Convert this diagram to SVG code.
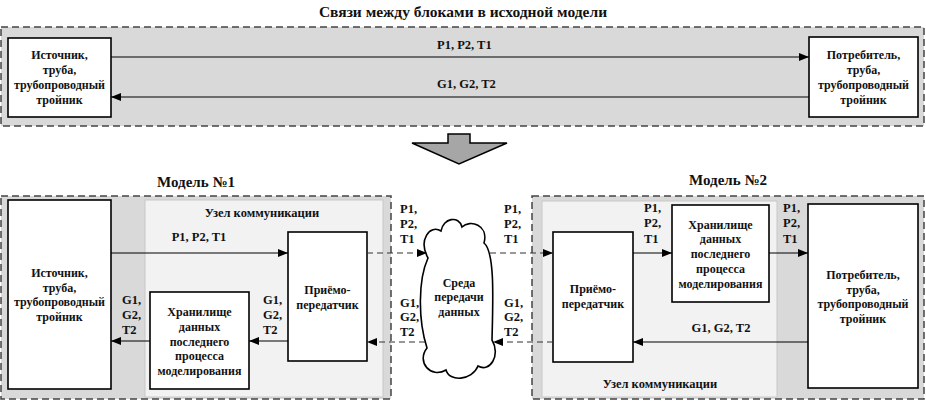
<svg xmlns="http://www.w3.org/2000/svg" width="926" height="402" viewBox="0 0 926 402">
<defs>
<marker id="ah" markerWidth="10" markerHeight="8" refX="10" refY="4" orient="auto" markerUnits="userSpaceOnUse">
<path d="M0,0 L10,4 L0,8 Z" fill="#000"/>
</marker>
<style>
text{font-weight:bold;font-size:12px;fill:#111}
.c{text-anchor:middle}
.t{font-size:15px}
.tt{font-size:15.5px}
.lb{font-size:12.5px}
.outer{fill:#d9d9d9;stroke:#444;stroke-width:1.5;stroke-dasharray:7 4}
.inner{fill:#f2f2f2;stroke:#c8c8c8;stroke-width:1}
.box{fill:#fff;stroke:#000;stroke-width:1.6}
.ln{fill:none;stroke:#000;stroke-width:1.2;marker-end:url(#ah)}
.dla{fill:none;stroke:#333;stroke-width:1.2;stroke-dasharray:6 4;marker-end:url(#ah)}
</style>
</defs>
<rect width="926" height="402" fill="#fff"/>
<g font-family="'Liberation Serif', 'Times New Roman', serif">

<g id="top-region">
<text class="c tt" x="463" y="17">Связи между блоками в исходной модели</text>
<rect class="outer" x="1" y="27" width="923" height="99"/>
</g>

<g id="top-source">
<rect class="box" x="8" y="38" width="103" height="79"/>
<text class="c" x="59.5" y="59">Источник,</text>
<text class="c" x="59.5" y="74">труба,</text>
<text class="c" x="59.5" y="89">трубопроводный</text>
<text class="c" x="59.5" y="104">тройник</text>
</g>

<g id="top-consumer">
<rect class="box" x="809" y="37" width="109" height="80"/>
<text class="c" x="863.5" y="59">Потребитель,</text>
<text class="c" x="863.5" y="74">труба,</text>
<text class="c" x="863.5" y="89">трубопроводный</text>
<text class="c" x="863.5" y="104">тройник</text>
</g>

<g id="transition-arrow">
<polygon points="448,134 470,134 470,143 507,143 459,164 412,143 448,143" fill="#a6a6a6" stroke="#000" stroke-width="1.5"/>
</g>

<g id="model1">
<text class="c t" x="196" y="187">Модель №1</text>
<rect class="outer" x="1" y="196" width="390" height="203"/>
<rect class="inner" x="145" y="200" width="238" height="197"/>
<text class="c lb" x="262" y="217">Узел коммуникации</text>
</g>

<g id="model2">
<text class="c t" x="728" y="185">Модель №2</text>
<rect class="outer" x="532" y="196" width="392" height="203"/>
<rect class="inner" x="542" y="201" width="235" height="196"/>
<text class="c lb" x="660" y="388">Узел коммуникации</text>
</g>

<g id="source1">
<rect class="box" x="8" y="200" width="103" height="189"/>
<text class="c" x="59.5" y="277">Источник,</text>
<text class="c" x="59.5" y="292">труба,</text>
<text class="c" x="59.5" y="306">трубопроводный</text>
<text class="c" x="59.5" y="321">тройник</text>
</g>

<g id="storage1">
<rect class="box" x="150" y="292" width="99" height="97"/>
<text class="c" x="199.5" y="316">Хранилище</text>
<text class="c" x="199.5" y="331">данных</text>
<text class="c" x="199.5" y="346">последнего</text>
<text class="c" x="199.5" y="360">процесса</text>
<text class="c" x="199.5" y="375">моделирования</text>
</g>

<g id="transceiver1">
<rect class="box" x="288" y="232" width="79" height="129"/>
<text class="c" x="327.5" y="294">Приёмо-</text>
<text class="c" x="327.5" y="309">передатчик</text>
</g>

<g id="cloud">
<path d="M428,258 C418,240 430,224 441,231 C443,218 459,215 462,227 C470,219 489,225 484,243 C495,252 493,300 492,340 C501,355 490,373 478,366 C472,381 449,382 446,370 C431,379 416,362 427,348 C418,320 418,280 428,258 Z" fill="#fff" stroke="#000" stroke-width="1.6"/>
<text class="c" x="459" y="287">Среда</text>
<text class="c" x="459" y="301">передачи</text>
<text class="c" x="459" y="316">данных</text>
</g>

<g id="transceiver2">
<rect class="box" x="553" y="232" width="80" height="130"/>
<text class="c" x="593" y="293">Приёмо-</text>
<text class="c" x="593" y="308">передатчик</text>
</g>

<g id="storage2">
<rect class="box" x="672" y="205" width="97" height="97"/>
<text class="c" x="720.5" y="229">Хранилище</text>
<text class="c" x="720.5" y="243">данных</text>
<text class="c" x="720.5" y="258">последнего</text>
<text class="c" x="720.5" y="273">процесса</text>
<text class="c" x="720.5" y="288">моделирования</text>
</g>

<g id="consumer2">
<rect class="box" x="808" y="204" width="110" height="184"/>
<text class="c" x="863" y="279">Потребитель,</text>
<text class="c" x="863" y="294">труба,</text>
<text class="c" x="863" y="308">трубопроводный</text>
<text class="c" x="863" y="323">тройник</text>
</g>

<g id="connectors">
<line class="ln" x1="111" y1="57" x2="809" y2="57"/>
<line class="ln" x1="809" y1="97" x2="111" y2="97"/>
<text class="lb" x="437" y="49">P1, P2, T1</text>
<text class="lb" x="437" y="88">G1, G2, T2</text>

<line class="ln" x1="111" y1="253" x2="288" y2="253"/>
<text class="c lb" x="199" y="241">P1, P2, T1</text>
<line class="ln" x1="288" y1="341" x2="249" y2="341"/>
<line class="ln" x1="150" y1="341" x2="111" y2="341"/>
<text class="lb" x="122" y="304">G1,</text>
<text class="lb" x="122" y="319">G2,</text>
<text class="lb" x="122" y="334">T2</text>
<text class="lb" x="263" y="304">G1,</text>
<text class="lb" x="263" y="319">G2,</text>
<text class="lb" x="263" y="334">T2</text>

<line class="dla" x1="367" y1="253" x2="427" y2="253"/>
<line class="dla" x1="490" y1="253" x2="553" y2="253"/>
<line class="dla" x1="553" y1="342" x2="493" y2="342"/>
<line class="dla" x1="425" y1="342" x2="367" y2="342"/>
<text class="lb" x="400" y="213">P1,</text>
<text class="lb" x="400" y="228">P2,</text>
<text class="lb" x="400" y="243">T1</text>
<text class="lb" x="504" y="213">P1,</text>
<text class="lb" x="504" y="228">P2,</text>
<text class="lb" x="504" y="243">T1</text>
<text class="lb" x="400" y="307">G1,</text>
<text class="lb" x="400" y="321">G2,</text>
<text class="lb" x="400" y="336">T2</text>
<text class="lb" x="504" y="307">G1,</text>
<text class="lb" x="504" y="321">G2,</text>
<text class="lb" x="504" y="336">T2</text>

<line class="ln" x1="633" y1="253" x2="672" y2="253"/>
<line class="ln" x1="769" y1="253" x2="808" y2="253"/>
<line class="ln" x1="808" y1="342" x2="633" y2="342"/>
<text class="lb" x="644" y="212">P1,</text>
<text class="lb" x="644" y="227">P2,</text>
<text class="lb" x="644" y="243">T1</text>
<text class="lb" x="783" y="212">P1,</text>
<text class="lb" x="783" y="227">P2,</text>
<text class="lb" x="783" y="243">T1</text>
<text class="c lb" x="721" y="332">G1, G2, T2</text>
</g>
</g>
</svg>
